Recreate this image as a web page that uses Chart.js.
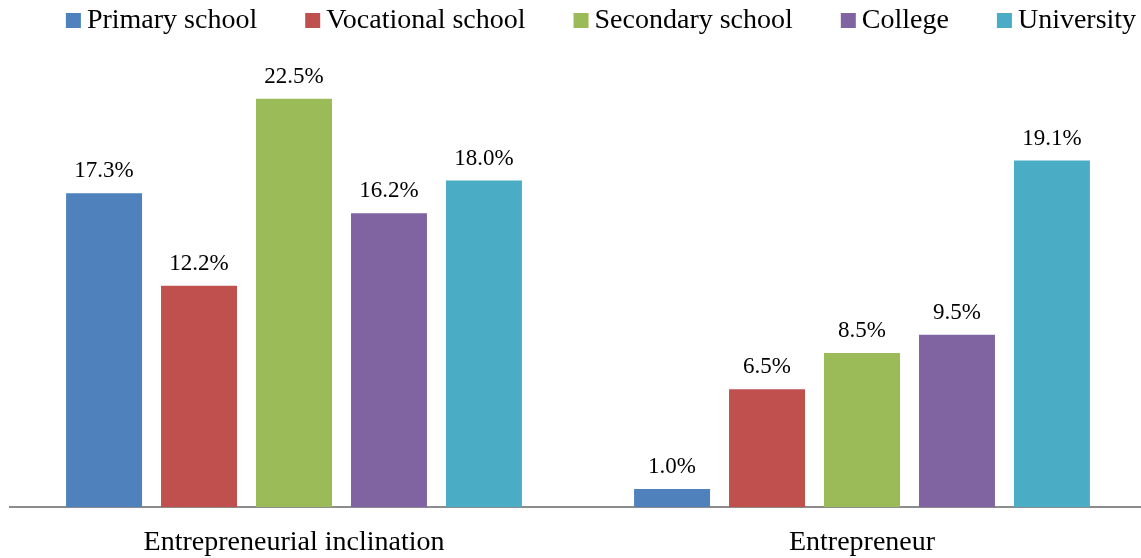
<!DOCTYPE html>
<html>
<head>
<meta charset="utf-8">
<script src="https://cdn.jsdelivr.net/npm/chart.js@4.4.1/dist/chart.umd.min.js"></script>
<style>
  html, body { margin: 0; padding: 0; background: #fff; overflow: hidden; }
  #wrap { position: relative; width: 1146px; height: 578px; }
</style>
</head>
<body>
<div id="wrap"><canvas id="c"></canvas></div>
<script>
const categories = ["Entrepreneurial inclination", "Entrepreneur"];
const seriesNames = ["Primary school", "Vocational school", "Secondary school", "College", "University"];
const primary = [17.3, 1.0];
const vocational = [12.2, 6.5];
const secondary = [22.5, 8.5];
const college = [16.2, 9.5];
const university = [18.0, 19.1];
const colors = ["#4F81BD", "#C0504D", "#9BBB59", "#8064A2", "#4BACC6"];

const FONT = "'Liberation Serif', 'Times New Roman', serif";

const valueLabels = {
  id: 'valueLabels',
  afterDatasetsDraw(chart) {
    const ctx = chart.ctx;
    ctx.save();
    ctx.font = "23px " + FONT;
    ctx.fillStyle = "#000";
    ctx.textAlign = "center";
    ctx.textBaseline = "alphabetic";
    chart.data.datasets.forEach((ds, i) => {
      const meta = chart.getDatasetMeta(i);
      meta.data.forEach((bar, j) => {
        ctx.fillText(ds.data[j].toFixed(1) + "%", bar.x, bar.y - 16);
      });
    });
    ctx.restore();
  }
};

const topLegend = {
  id: 'topLegend',
  afterDraw(chart) {
    const ctx = chart.ctx;
    ctx.save();
    ctx.font = "28px " + FONT;
    ctx.textBaseline = "alphabetic";
    ctx.textAlign = "left";
    const box = 15, gapBox = 6, gapItem = 48;
    const items = chart.data.datasets.map(d => ({ text: d.label, color: d.backgroundColor, w: ctx.measureText(d.label).width }));
    let total = 0;
    items.forEach((it, i) => { total += box + gapBox + it.w + (i < items.length - 1 ? gapItem : 0); });
    let x = 601 - total / 2;
    items.forEach(it => {
      ctx.fillStyle = it.color;
      ctx.fillRect(x, 13, box, box);
      ctx.fillStyle = "#000";
      ctx.fillText(it.text, x + box + gapBox, 28);
      x += box + gapBox + it.w + gapItem;
    });
    ctx.restore();
  }
};

const datasets = [primary, vocational, secondary, college, university].map((arr, i) => ({
  label: seriesNames[i],
  data: arr,
  backgroundColor: colors[i],
  borderWidth: 0,
  categoryPercentage: 0.836,
  barPercentage: 0.8
}));

new Chart(document.getElementById('c'), {
  type: 'bar',
  data: { labels: categories, datasets },
  plugins: [valueLabels, topLegend],
  options: {
    responsive: true,
    maintainAspectRatio: false,
    animation: false,
    layout: { padding: { top: 53.5, left: 10, right: 0, bottom: 0 } },
    plugins: { legend: { display: false }, tooltip: { enabled: false } },
    scales: {
      x: {
        grid: { display: false, drawTicks: false },
        border: { display: true, color: '#8C8C8C', width: 2 },
        ticks: { color: '#000', padding: 20, font: { family: FONT, size: 28, lineHeight: 1.1 } }
      },
      y: {
        display: false,
        min: 0,
        max: 25
      }
    }
  }
});
</script>
</body>
</html>
